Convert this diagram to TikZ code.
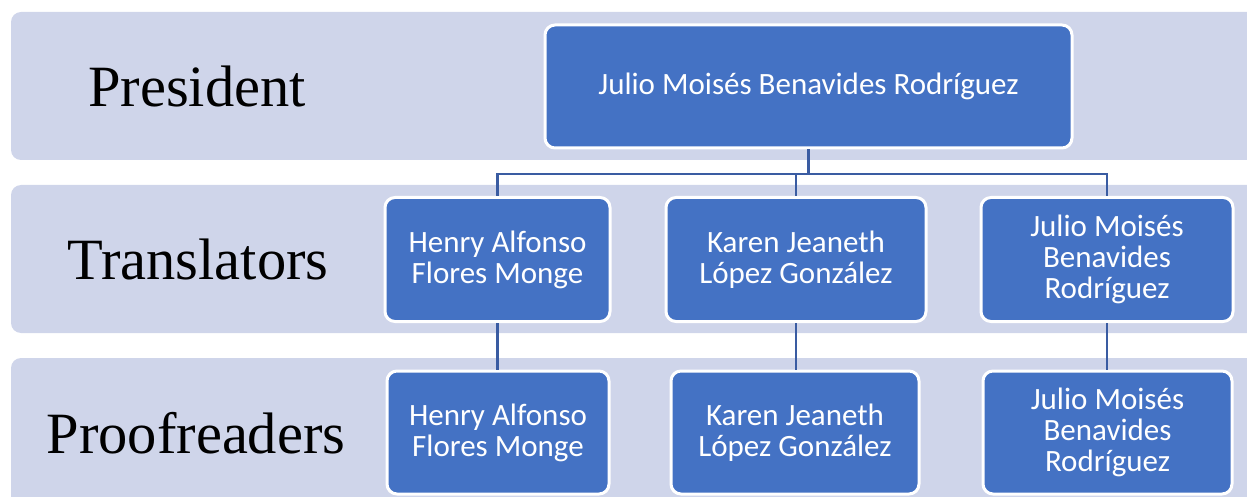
\documentclass[tikz,border=0pt]{standalone}
\usepackage{fontspec}
\setmainfont{Liberation Serif}
\newfontfamily\boxfont{Carlito}
\definecolor{bandcol}{RGB}{207,213,234}
\definecolor{boxblue}{RGB}{68,114,196}
\definecolor{conncol}{RGB}{58,92,162}
\tikzset{
  band/.style={fill=bandcol, draw=none, rounded corners=10pt},
  orgbox/.style={rectangle, rounded corners=10pt, fill=boxblue, draw=white, line width=3pt,
    text=white, align=center, inner sep=0pt,
    font=\boxfont\fontsize{31}{31}\selectfont},
  rowlabel/.style={text=black, inner sep=0pt, font=\fontsize{58.5}{60}\selectfont},
  conn/.style={draw=conncol, line width=2.5pt}
}
\begin{document}
\begin{tikzpicture}[x=1pt,y=-1pt]
\useasboundingbox (0,0) rectangle (1247,497);
\clip (0,0) rectangle (1247,497);
% bands
\fill[band] (11,12) rectangle (1270,160);
\fill[band] (11,185) rectangle (1270,333);
\fill[band] (11,358) rectangle (1270,520);
% labels
\node[rowlabel] (lpres) at (197,86) {President};
\node[rowlabel] (ltrans) at (198,259) {Translators};
\node[rowlabel] (lproof) at (196,433) {Proofreaders};
% boxes
\node[orgbox, minimum width=527pt, minimum height=123pt] (pres) at (808.5,86.5) {Julio Moisés Benavides Rodríguez};
\node[orgbox, minimum width=225pt, minimum height=124pt] (t1) at (497.5,259.5) {Henry Alfonso\\Flores Monge};
\node[orgbox, minimum width=260pt, minimum height=124pt] (t2) at (796,259.5) {Karen Jeaneth\\López González};
\node[orgbox, minimum width=252pt, minimum height=124pt] (t3) at (1107,259.5) {Julio Moisés\\Benavides\\Rodríguez};
\node[orgbox, minimum width=222pt, minimum height=123pt] (p1) at (498,432.5) {Henry Alfonso\\Flores Monge};
\node[orgbox, minimum width=248pt, minimum height=123pt] (p2) at (795,432.5) {Karen Jeaneth\\López González};
\node[orgbox, minimum width=249pt, minimum height=123pt] (p3) at (1107.5,432.5) {Julio Moisés\\Benavides\\Rodríguez};
% connectors
\coordinate (bus) at (808.5,174);
\draw[conn] (pres.south) -- (bus);
\draw[conn] (bus) -| (t1.north);
\draw[conn] (bus) -| (t2.north);
\draw[conn] (bus) -| (t3.north);
\draw[conn] (t1.south) -- (p1.north -| t1.south);
\draw[conn] (t2.south) -- (p2.north -| t2.south);
\draw[conn] (t3.south) -- (p3.north -| t3.south);
\end{tikzpicture}
\end{document}
